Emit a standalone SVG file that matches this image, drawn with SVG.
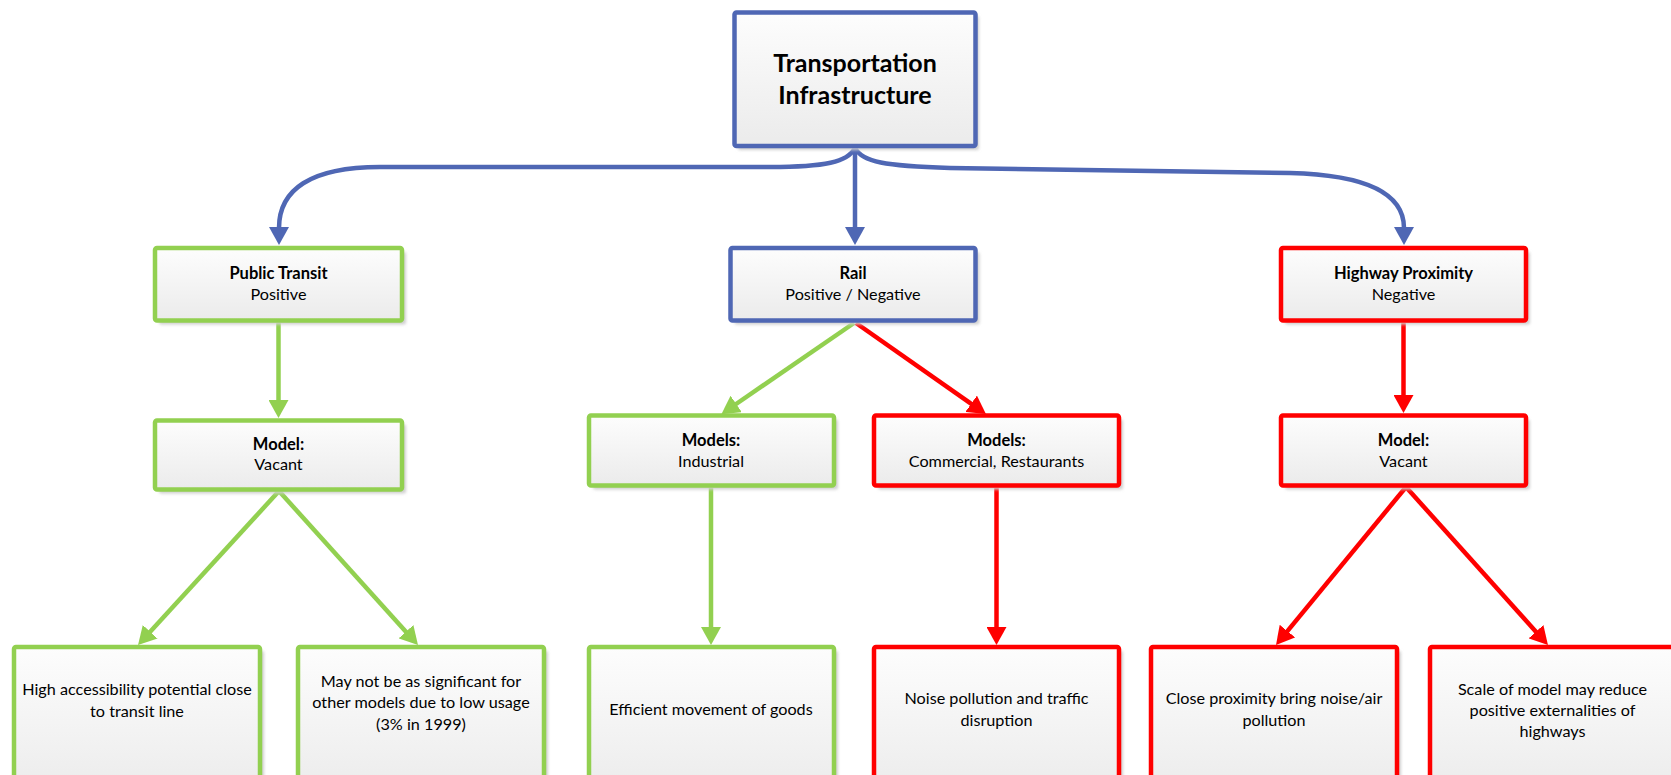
<svg xmlns="http://www.w3.org/2000/svg" width="1671" height="775" viewBox="0 0 1671 775">
  <style>
    .box { fill: url(#boxFill); stroke-width: 4.5; stroke-linejoin: round; }
    .shadow { fill: #cfcfcf; filter: url(#soft); }
    .blue { stroke: #4F67B4; }
    .green { stroke: #92D050; }
    .red { stroke: #FF0000; }
    text { font-family: Lato, "Liberation Sans", sans-serif; fill: #000; text-anchor: middle; }
    .title { font-size: 25px; font-weight: bold; }
    .head { font-size: 16.5px; font-weight: bold; }
    .body { font-size: 16.2px; }
    .link { fill: none; stroke-width: 4.5; }
    .link.blue { marker-end: url(#arrowBlue); }
    .link.green { marker-end: url(#arrowGreen); }
    .link.red { marker-end: url(#arrowRed); }
  </style>
  <defs>
    <linearGradient id="boxFill" x1="0" y1="0" x2="0" y2="1">
      <stop offset="0" stop-color="#fdfdfd"/>
      <stop offset="1" stop-color="#ebebeb"/>
    </linearGradient>
    <filter id="soft" x="-5%" y="-5%" width="110%" height="110%">
      <feGaussianBlur stdDeviation="1.5"/>
    </filter>
    <marker id="arrowBlue" markerUnits="userSpaceOnUse" viewBox="0 0 18 20" markerWidth="18" markerHeight="20" refX="1" refY="10" orient="auto">
      <path d="M0,0 L18,10 L0,20 z" fill="#4F67B4"/>
    </marker>
    <marker id="arrowGreen" markerUnits="userSpaceOnUse" viewBox="0 0 18 20" markerWidth="18" markerHeight="20" refX="1" refY="10" orient="auto">
      <path d="M0,0 L18,10 L0,20 z" fill="#92D050"/>
    </marker>
    <marker id="arrowRed" markerUnits="userSpaceOnUse" viewBox="0 0 18 20" markerWidth="18" markerHeight="20" refX="1" refY="10" orient="auto">
      <path d="M0,0 L18,10 L0,20 z" fill="#FF0000"/>
    </marker>
  </defs>

  <rect width="1671" height="775" fill="#ffffff"/>

  <!-- connectors -->
  <g id="connectors">
    <path class="link blue" d="M855,148 V228"/>
    <path class="link blue" d="M855,148 C848,162 825,167 770,167 L380,167 C310,167 279,190 279,228"/>
    <path class="link blue" d="M855,148 C862,162 885,166 950,168 L1290,173 C1370,175 1404,195 1404,228"/>
    <path class="link green" d="M278.5,323 V401"/>
    <path class="link green" d="M854,323 L735.4,404.5"/>
    <path class="link red" d="M856,323 L972,404.3"/>
    <path class="link red" d="M1403.5,323 V396"/>
    <path class="link green" d="M711,488 V628"/>
    <path class="link red" d="M996.5,488 V628"/>
    <path class="link green" d="M279,491 L149.5,632.5"/>
    <path class="link green" d="M279,491 L406.6,632.4"/>
    <path class="link red" d="M1406,487 L1286.8,631.9"/>
    <path class="link red" d="M1406,487 L1536.6,632.4"/>
  </g>

  <!-- top node -->
  <g id="transportation-infrastructure">
    <rect class="shadow" x="738" y="16" width="241" height="134" rx="2"/>
    <rect class="box blue" x="734.5" y="12.5" width="241" height="133.5" rx="2"/>
    <text class="title" x="855" y="72">Transportation</text>
    <text class="title" x="855" y="104">Infrastructure</text>
  </g>

  <!-- second row -->
  <g id="public-transit">
    <rect class="shadow" x="159" y="252" width="247" height="72.5" rx="2"/>
    <rect class="box green" x="155" y="248" width="247" height="72.5" rx="2"/>
    <text class="head" x="278.5" y="279">Public Transit</text>
    <text class="body" x="278.5" y="300">Positive</text>
  </g>
  <g id="rail">
    <rect class="shadow" x="734.5" y="252" width="245" height="72.5" rx="2"/>
    <rect class="box blue" x="730.5" y="248" width="245" height="72.5" rx="2"/>
    <text class="head" x="853" y="279">Rail</text>
    <text class="body" x="853" y="300">Positive / Negative</text>
  </g>
  <g id="highway-proximity">
    <rect class="shadow" x="1285" y="252" width="245" height="72.5" rx="2"/>
    <rect class="box red" x="1281" y="248" width="245" height="72.5" rx="2"/>
    <text class="head" x="1403.5" y="279">Highway Proximity</text>
    <text class="body" x="1403.5" y="300">Negative</text>
  </g>

  <!-- third row -->
  <g id="model-vacant-transit">
    <rect class="shadow" x="159" y="424.5" width="247" height="69" rx="2"/>
    <rect class="box green" x="155" y="420.5" width="247" height="69" rx="2"/>
    <text class="head" x="278.5" y="450">Model:</text>
    <text class="body" x="278.5" y="470">Vacant</text>
  </g>
  <g id="models-industrial">
    <rect class="shadow" x="593" y="419.5" width="245" height="70" rx="2"/>
    <rect class="box green" x="589" y="415.5" width="245" height="70" rx="2"/>
    <text class="head" x="711" y="446">Models:</text>
    <text class="body" x="711" y="466.5">Industrial</text>
  </g>
  <g id="models-commercial">
    <rect class="shadow" x="878" y="419.5" width="245" height="70" rx="2"/>
    <rect class="box red" x="874" y="415.5" width="245" height="70" rx="2"/>
    <text class="head" x="996.5" y="446">Models:</text>
    <text class="body" x="996.5" y="466.5">Commercial, Restaurants</text>
  </g>
  <g id="model-vacant-highway">
    <rect class="shadow" x="1285" y="419.5" width="245" height="70" rx="2"/>
    <rect class="box red" x="1281" y="415.5" width="245" height="70" rx="2"/>
    <text class="head" x="1403.5" y="446">Model:</text>
    <text class="body" x="1403.5" y="466.5">Vacant</text>
  </g>

  <!-- bottom row -->
  <g id="high-accessibility">
    <rect class="shadow" x="18" y="651" width="246" height="150" rx="2"/>
    <rect class="box green" x="14" y="647" width="246" height="150" rx="2"/>
    <text class="body" x="137" y="695">High accessibility potential close</text>
    <text class="body" x="137" y="717">to transit line</text>
  </g>
  <g id="low-usage">
    <rect class="shadow" x="302" y="651" width="246" height="150" rx="2"/>
    <rect class="box green" x="298" y="647" width="246" height="150" rx="2"/>
    <text class="body" x="421" y="687">May not be as significant for</text>
    <text class="body" x="421" y="708">other models due to low usage</text>
    <text class="body" x="421" y="730">(3% in 1999)</text>
  </g>
  <g id="movement-of-goods">
    <rect class="shadow" x="593" y="651" width="245" height="150" rx="2"/>
    <rect class="box green" x="589" y="647" width="245" height="150" rx="2"/>
    <text class="body" x="711" y="715">Efficient movement of goods</text>
  </g>
  <g id="noise-traffic">
    <rect class="shadow" x="878" y="651" width="245" height="150" rx="2"/>
    <rect class="box red" x="874" y="647" width="245" height="150" rx="2"/>
    <text class="body" x="996.5" y="704">Noise pollution and traffic</text>
    <text class="body" x="996.5" y="726">disruption</text>
  </g>
  <g id="noise-air">
    <rect class="shadow" x="1155" y="651" width="246" height="150" rx="2"/>
    <rect class="box red" x="1151" y="647" width="246" height="150" rx="2"/>
    <text class="body" x="1274" y="704">Close proximity bring noise/air</text>
    <text class="body" x="1274" y="726">pollution</text>
  </g>
  <g id="scale-of-model">
    <rect class="shadow" x="1434" y="651" width="246" height="150" rx="2"/>
    <rect class="box red" x="1430" y="647" width="246" height="150" rx="2"/>
    <text class="body" x="1552.5" y="694.5">Scale of model may reduce</text>
    <text class="body" x="1552.5" y="716">positive externalities of</text>
    <text class="body" x="1552.5" y="737">highways</text>
  </g>
</svg>
